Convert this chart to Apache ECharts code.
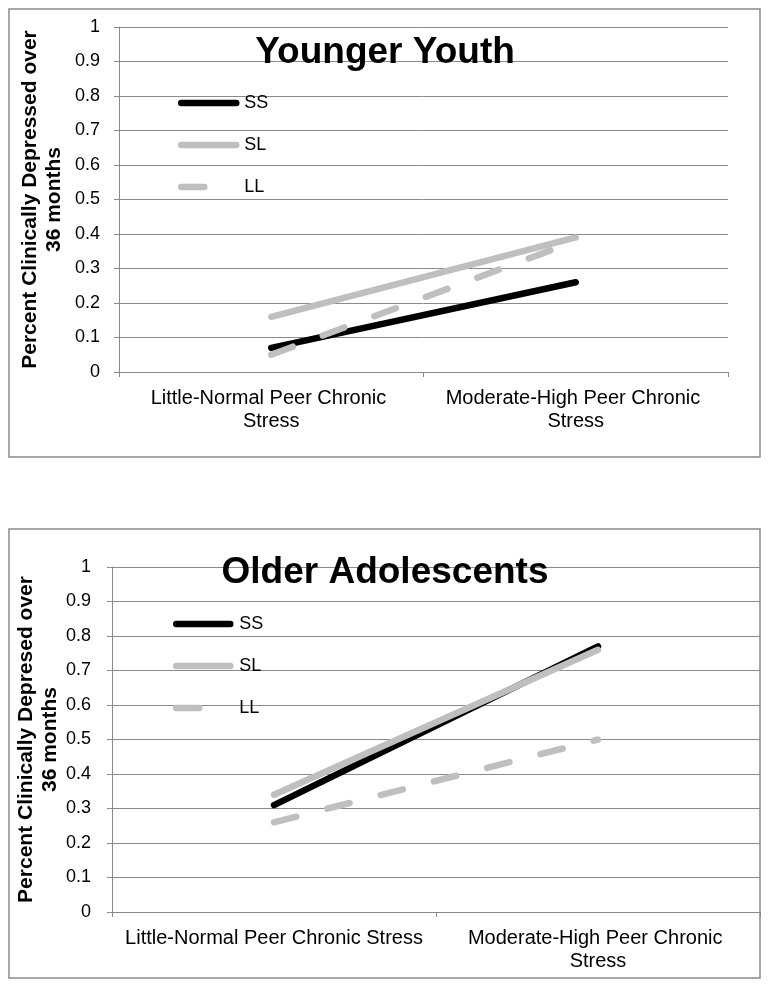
<!DOCTYPE html>
<html>
<head>
<meta charset="utf-8">
<script src="https://cdn.jsdelivr.net/npm/echarts@6/dist/echarts.min.js"></script>
<style>
  html, body { margin: 0; padding: 0; background: #fff; }
  #chart { width: 770px; height: 989px; }
</style>
</head>
<body>
<div id="chart"></div>
<script>
// ---- data ----
const categories = ['Little-Normal Peer Chronic Stress', 'Moderate-High Peer Chronic Stress'];
const seriesNames = ['SS', 'SL', 'LL'];
const titles = ['Younger Youth', 'Older Adolescents'];
const yAxisTitles = ['Percent Clinically Depressed over\n36 months', 'Percent Clinically Depresed over\n36 months'];
const yTickLabels = ['0', '0.1', '0.2', '0.3', '0.4', '0.5', '0.6', '0.7', '0.8', '0.9', '1'];

const youngerSS = [0.07, 0.26];
const youngerSL = [0.16, 0.39];
const youngerLL = [0.05, 0.38];

const olderSS = [0.31, 0.77];
const olderSL = [0.34, 0.76];
const olderLL = [0.26, 0.50];

// ---- styles / layout ----
const FONT = '"Liberation Sans", Arial, Helvetica, sans-serif';
const GRID_COLOR = '#8a8a8a';
const LIGHT = '#bfbfbf';

const panels = [
  { data: [youngerSS, youngerSL, youngerLL], box: [9, 9, 751, 448],
    grid: { left: 119, top: 27, width: 609, height: 345 },
    titleTop: 34, nameGap: 53, nameLineHeight: 24, labelMargin: 19, xLabelWidth: 280,
    legendLeft: 178, legendTop: 94, legendItemWidth: 55, legendTextPad: 3 },
  { data: [olderSS, olderSL, olderLL], box: [9, 529, 751, 449],
    grid: { left: 112, top: 567, width: 648, height: 345 },
    titleTop: 554, nameGap: 50, nameLineHeight: 24, labelMargin: 21, xLabelWidth: 308,
    legendLeft: 173, legendTop: 615, legendItemWidth: 54, legendTextPad: 4 }
];

const seriesStyles = [
  { color: '#000000', type: 'solid' },
  { color: LIGHT, type: 'solid' },
  { color: LIGHT, type: [23, 32] }
];

const option = {
  animation: false,
  backgroundColor: '#ffffff',
  textStyle: { fontFamily: FONT },
  title: [], legend: [], grid: [], xAxis: [], yAxis: [], series: [],
  graphic: []
};

panels.forEach((p, i) => {
  option.graphic.push({
    type: 'rect', silent: true, z: -10,
    shape: { x: p.box[0], y: p.box[1], width: p.box[2], height: p.box[3] },
    style: { fill: 'none', stroke: GRID_COLOR, lineWidth: 1.5 }
  });
  option.title.push({
    text: titles[i], left: 'center', top: p.titleTop, padding: 0,
    textStyle: { fontFamily: FONT, fontSize: 37, fontWeight: 'bold', color: '#000' },
    z: 10
  });
  option.legend.push({
    orient: 'vertical', left: p.legendLeft, top: p.legendTop, padding: 0,
    itemWidth: p.legendItemWidth, itemHeight: 18, itemGap: 24,
    data: seriesNames,
    lineStyle: { width: 6.5 },
    itemStyle: { opacity: 0, borderWidth: 0 },
    textStyle: { fontFamily: FONT, fontSize: 18, color: '#000', lineHeight: 18, padding: [0, 0, 0, p.legendTextPad] },
    selectedMode: false
  });
  option.grid.push(Object.assign({ containLabel: false }, p.grid));
  option.xAxis.push({
    type: 'category', gridIndex: i, data: categories, boundaryGap: true,
    axisLine: { show: true, lineStyle: { color: GRID_COLOR, width: 1 } },
    axisTick: { show: true, length: 5, alignWithLabel: false, lineStyle: { color: GRID_COLOR } },
    axisLabel: {
      margin: 15, fontSize: 20, color: '#000', fontFamily: FONT, lineHeight: 23,
      width: p.xLabelWidth, overflow: 'break', interval: 0
    }
  });
  option.yAxis.push({
    type: 'value', gridIndex: i, min: 0, max: 1, interval: 0.1,
    name: yAxisTitles[i], nameLocation: 'middle', nameGap: p.nameGap, nameRotate: 90,
    nameMoveOverlap: false,
    nameTextStyle: { fontFamily: FONT, fontSize: 21, fontWeight: 'bold', color: '#000', lineHeight: p.nameLineHeight, align: 'center' },
    axisLine: { show: true, lineStyle: { color: GRID_COLOR, width: 1 } },
    axisTick: { show: true, length: 5, lineStyle: { color: GRID_COLOR } },
    splitLine: { show: true, lineStyle: { color: GRID_COLOR, width: 1 } },
    axisLabel: {
      margin: p.labelMargin, fontSize: 18, color: '#000', fontFamily: FONT,
      formatter: (v) => yTickLabels[Math.round(v * 10)]
    }
  });
  p.data.forEach((vals, k) => {
    option.series.push({
      type: 'line', name: seriesNames[k], xAxisIndex: i, yAxisIndex: i,
      data: vals, symbol: 'none', showSymbol: false,
      color: seriesStyles[k].color,
      lineStyle: { color: seriesStyles[k].color, width: 6.5, type: seriesStyles[k].type, cap: 'round' },
      z: 3 + k
    });
  });
});

const chart = echarts.init(document.getElementById('chart'), null, { renderer: 'canvas' });
chart.setOption(option);
</script>
</body>
</html>
